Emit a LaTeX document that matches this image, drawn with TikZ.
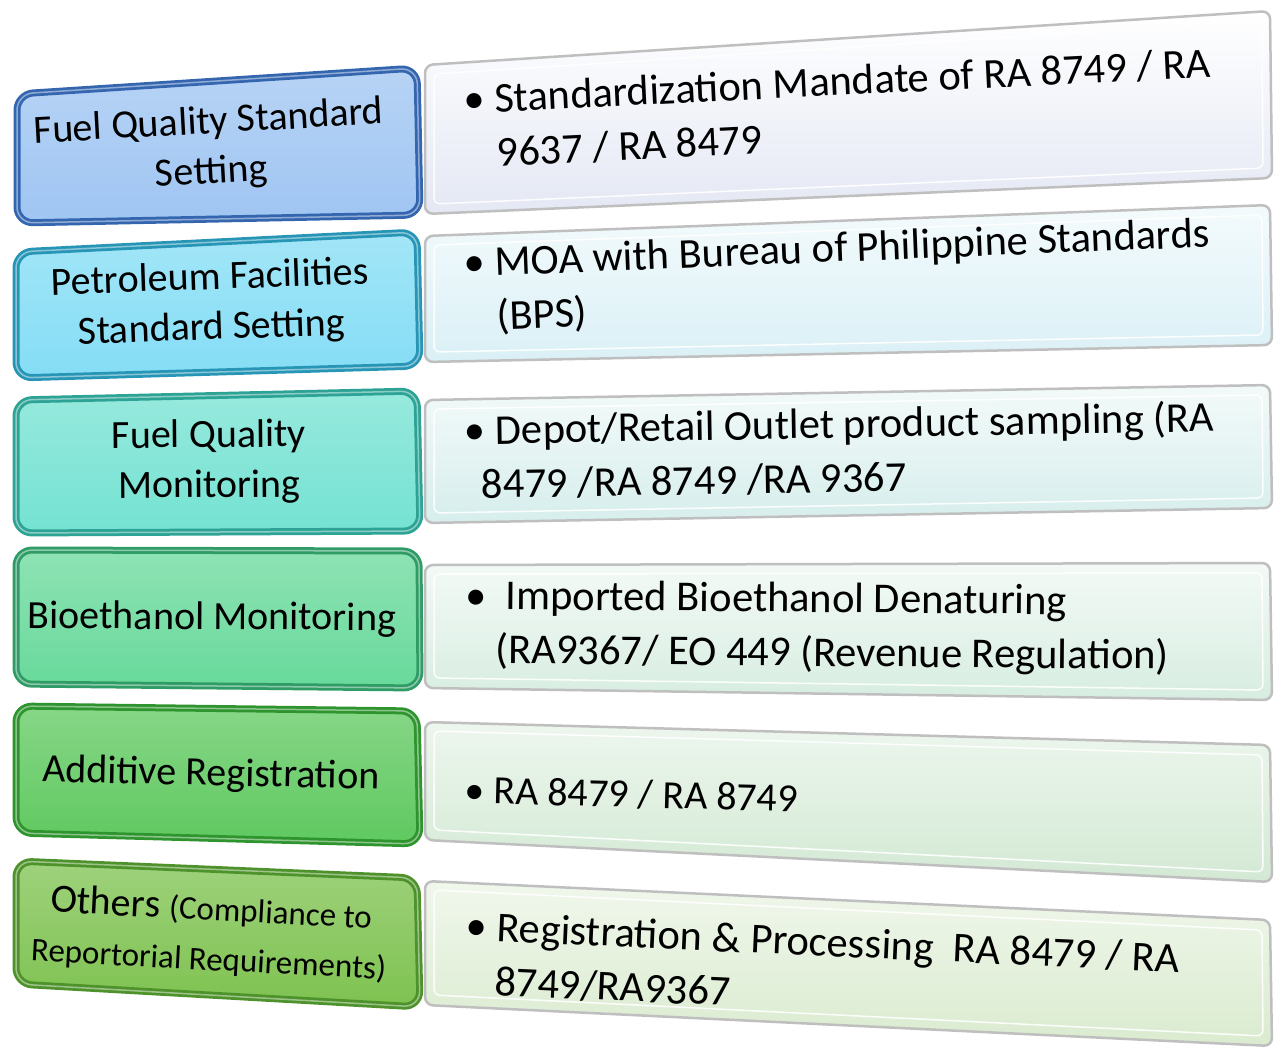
\documentclass[tikz,border=0pt]{standalone}
\usepackage{fontspec}
\setmainfont{Carlito}
\usetikzlibrary{calc}
\definecolor{fillone}{HTML}{9FC5F2}
\definecolor{edgeone}{HTML}{3466B0}
\definecolor{filltwo}{HTML}{84DDF5}
\definecolor{edgetwo}{HTML}{2796B6}
\definecolor{fillthree}{HTML}{74E2D2}
\definecolor{edgethree}{HTML}{2CA394}
\definecolor{fillfour}{HTML}{68D99B}
\definecolor{edgefour}{HTML}{2F9C66}
\definecolor{fillfive}{HTML}{5FC95F}
\definecolor{edgefive}{HTML}{2E942E}
\definecolor{fillsix}{HTML}{7EC250}
\definecolor{edgesix}{HTML}{4D922A}
\definecolor{paneone}{HTML}{E4E8F4}
\definecolor{panetwo}{HTML}{DAF0F6}
\definecolor{panethree}{HTML}{D6EEEC}
\definecolor{panefour}{HTML}{D7EDE1}
\definecolor{panefive}{HTML}{D3E9D4}
\definecolor{panesix}{HTML}{DAEBCF}
\newcommand{\bigtext}{\fontsize{40}{50}\selectfont}
\newcommand{\widetext}{\fontsize{42.5}{54}\selectfont}
\newcommand{\smalltext}{\fontsize{33}{40}\selectfont}

\tikzset{
    lbox/.style={rounded corners=16pt, line width=7pt},
    lrim/.style={rounded corners=16pt, line width=1.5pt, draw=white, opacity=0.45},
    rbox/.style={rounded corners=8pt, line width=2.5pt, draw=black!25},
    rrim/.style={rounded corners=6pt, line width=1.5pt, draw=white, opacity=0.9},
    ltext/.style={align=center, inner sep=0pt, font=\bigtext},
    rtext/.style={align=left, anchor=west, inner sep=0pt, font=\widetext}
}

\begin{document}
\begin{tikzpicture}[x=1pt, y=-1pt]
    \useasboundingbox (0,0) rectangle (1274,1050);

    % right hand panels
    \filldraw[rbox, top color=white, bottom color=paneone] (425,65) -- (1270,11) -- (1272,178) -- (425,214) -- cycle;
    \draw[rrim] (434,74) -- (1262,21) -- (1263,168) -- (434,204) -- cycle;
    \filldraw[rbox, top color=panetwo!30!white, bottom color=panetwo] (425,236) -- (1270,205) -- (1272,345) -- (425,362) -- cycle;
    \draw[rrim] (434,245) -- (1262,215) -- (1263,335) -- (434,352) -- cycle;
    \filldraw[rbox, top color=panethree!30!white, bottom color=panethree] (425,400) -- (1270,385) -- (1272,508) -- (425,523) -- cycle;
    \draw[rrim] (434,409) -- (1262,395) -- (1263,498) -- (434,513) -- cycle;
    \filldraw[rbox, top color=panefour!30!white, bottom color=panefour] (425,565) -- (1270,563) -- (1272,700) -- (425,688) -- cycle;
    \draw[rrim] (434,574) -- (1262,573) -- (1263,690) -- (434,678) -- cycle;
    \filldraw[rbox, top color=panefive!40!white, bottom color=panefive] (425,722) -- (1270,745) -- (1272,882) -- (425,840) -- cycle;
    \draw[rrim] (434,731) -- (1262,755) -- (1263,872) -- (434,830) -- cycle;
    \filldraw[rbox, top color=panesix!40!white, bottom color=panesix] (425,881) -- (1270,920) -- (1272,1046) -- (425,1005) -- cycle;
    \draw[rrim] (434,890) -- (1262,930) -- (1263,1036) -- (434,995) -- cycle;

    % left hand boxes
    \filldraw[lbox, draw=edgeone, top color=fillone!75!white, bottom color=fillone] (17,94) -- (417,68) -- (420,215) -- (17,223) -- cycle;
    \draw[lrim] (17,94) -- (417,68) -- (420,215) -- (17,223) -- cycle;
    \filldraw[lbox, draw=edgetwo, top color=filltwo!75!white, bottom color=filltwo] (16,252) -- (417,232) -- (420,366) -- (16,378) -- cycle;
    \draw[lrim] (16,252) -- (417,232) -- (420,366) -- (16,378) -- cycle;
    \filldraw[lbox, draw=edgethree, top color=fillthree!75!white, bottom color=fillthree] (16,400) -- (417,391) -- (420,531) -- (16,533) -- cycle;
    \draw[lrim] (16,400) -- (417,391) -- (420,531) -- (16,533) -- cycle;
    \filldraw[lbox, draw=edgefour, top color=fillfour!75!white, bottom color=fillfour] (16,550) -- (419,551) -- (420,688) -- (16,684) -- cycle;
    \draw[lrim] (16,550) -- (419,551) -- (420,688) -- (16,684) -- cycle;
    \filldraw[lbox, draw=edgefive, top color=fillfive!75!white, bottom color=fillfive] (16,706) -- (417,711) -- (420,844) -- (16,833) -- cycle;
    \draw[lrim] (16,706) -- (417,711) -- (420,844) -- (16,833) -- cycle;
    \filldraw[lbox, draw=edgesix, top color=fillsix!75!white, bottom color=fillsix] (16,861) -- (417,878) -- (420,1007) -- (16,984) -- cycle;
    \draw[lrim] (16,861) -- (417,878) -- (420,1007) -- (16,984) -- cycle;

    % labels
    \node[ltext, rotate=3.2] (fqss) at (210,148) {Fuel Quality Standard\\Setting};
    \node[ltext, rotate=2] (pfss) at (211,304) {Petroleum Facilities\\Standard Setting};
    \node[ltext, rotate=0.5] (fqm) at (209,462) {Fuel Quality\\Monitoring};
    \node[ltext, rotate=-0.3] (bm) at (212,619) {Bioethanol Monitoring};
    \node[ltext, rotate=-1.2] (ar) at (211,775) {Additive Registration};
    \node[ltext, rotate=-3] (oth) at (210,934) {Others {\smalltext(Compliance to}\\{\smalltext Reportorial Requirements)}};

    \node[rtext, rotate=2.8] (fqssd) at (465,127) {\textbullet\ Standardization Mandate of RA 8749 / RA\\\phantom{\textbullet\ }9637 / RA 8479};
    \node[rtext, rotate=2.3] (pfssd) at (465,292) {\textbullet\ MOA with Bureau of Philippine Standards\\\phantom{\textbullet\ }(BPS)};
    \node[rtext, rotate=1] (fqmd) at (465,457) {\textbullet\ Depot/Retail Outlet product sampling (RA\\\hspace*{16pt}8479 /RA 8749 /RA 9367};
    \node[rtext, rotate=-0.5] (bmd) at (465,625) {\textbullet\ \ Imported Bioethanol Denaturing\\\phantom{\textbullet\ }(RA9367/ EO 449 (Revenue Regulation)};
    \node[rtext, font=\bigtext, rotate=-1.5] (ard) at (465,790) {\textbullet\ RA 8479 / RA 8749};
    \node[rtext, rotate=-2.6] (othd) at (465,953) {\textbullet\ Registration \& Processing\ \ RA 8479 / RA\\\phantom{\textbullet\ }8749/RA9367};
\end{tikzpicture}
\end{document}
